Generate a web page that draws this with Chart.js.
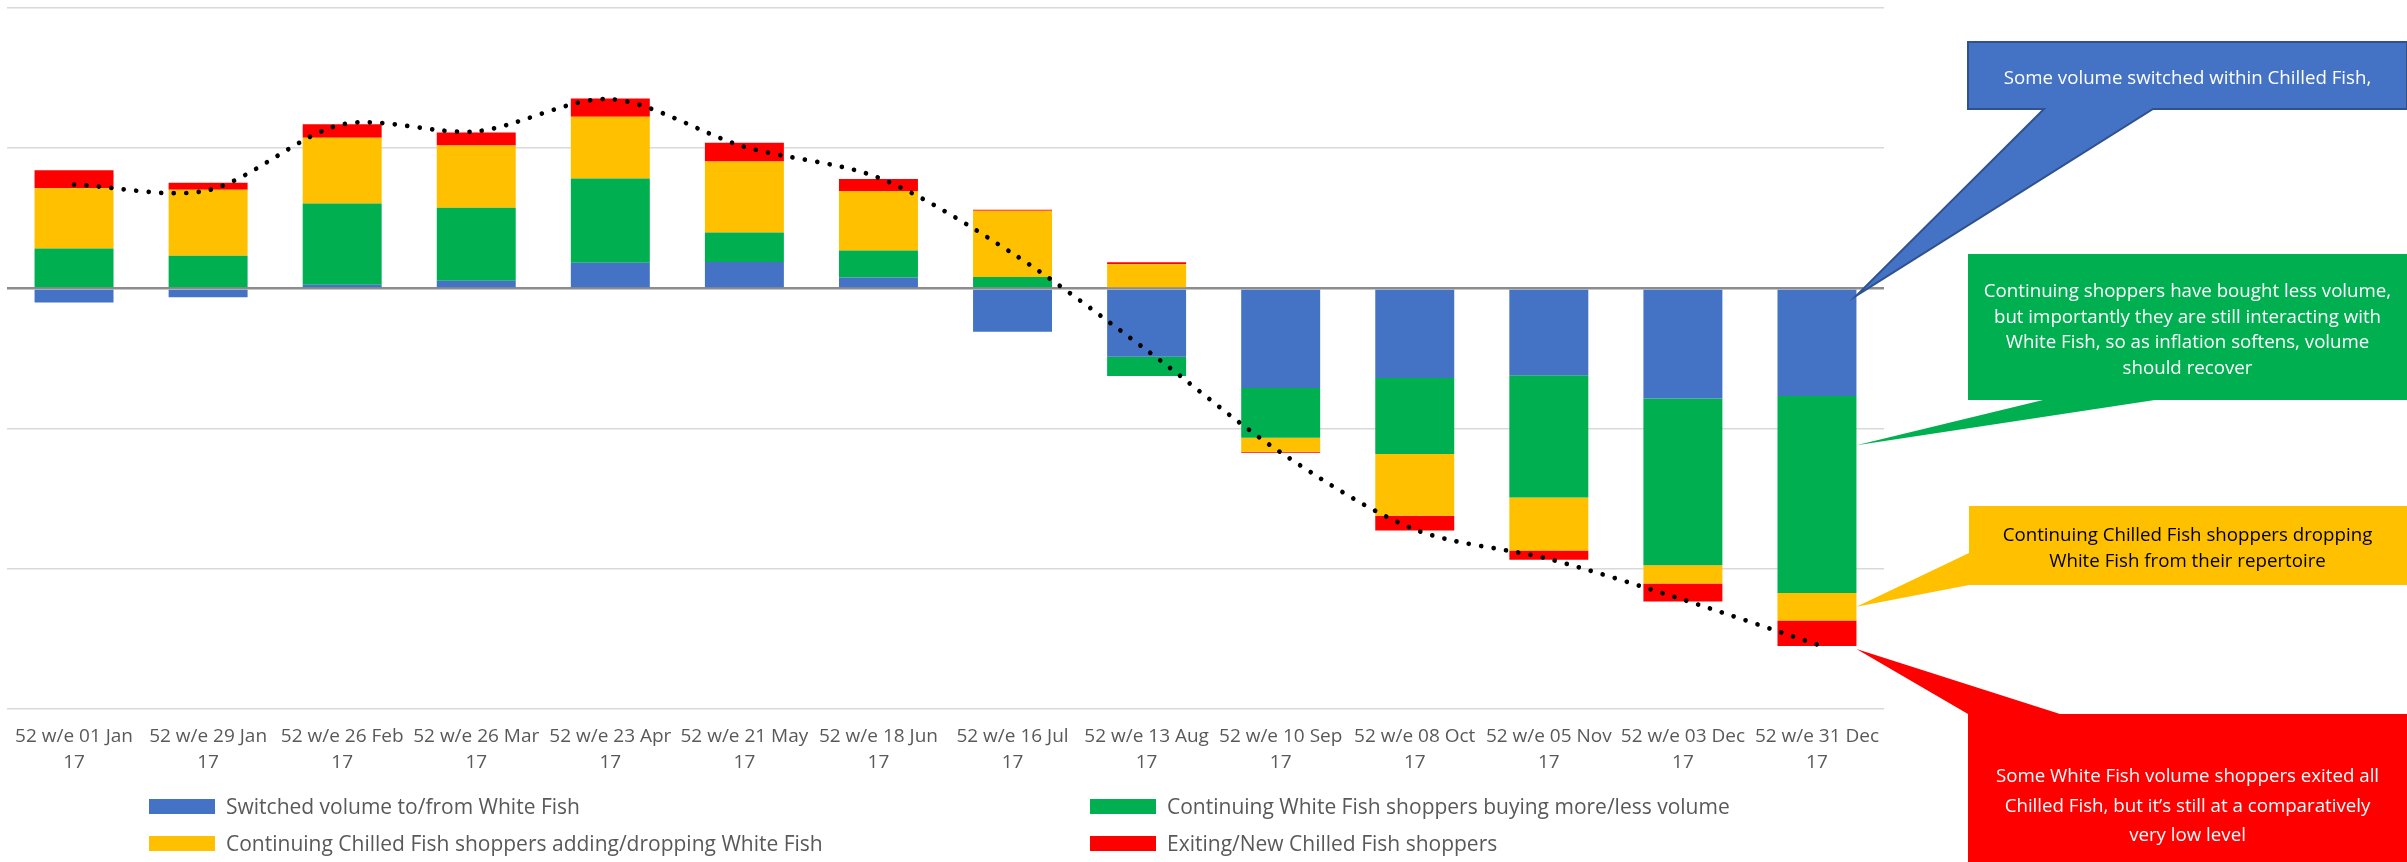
<!DOCTYPE html>
<html>
<head>
<meta charset="utf-8">
<script src="https://cdn.jsdelivr.net/npm/chart.js@4.4.1/dist/chart.umd.min.js"></script>
<style>
  body { margin: 0; background: #fff; }
  #wrap { position: relative; width: 2407px; height: 862px; overflow: hidden; font-family: 'Open Sans', sans-serif; }
  #myChart { position: absolute; left: 0; top: 0; }
  .legend-item { position: absolute; height: 28px; display: flex; align-items: center; font-size: 21px; color: #595959; white-space: nowrap; }
  .legend-item .box { display: inline-block; width: 66px; height: 15px; margin-right: 11px; }
  .note { position: absolute; left: 1968px; width: 439px; font-size: 18.7px; text-align: center; white-space: nowrap; }
</style>
</head>
<body>
<div id="wrap">
  <canvas id="myChart" width="2407" height="862"></canvas>
  <div id="legend"></div>
  <div class="note" style="top:63px; line-height:28px; color:#fff;">Some volume switched within Chilled Fish,</div>
  <div class="note" style="top:277px; line-height:25.6px; color:#fff;">Continuing shoppers have bought less volume,<br>but importantly they are still interacting with<br>White Fish, so as inflation softens, volume<br>should recover</div>
  <div class="note" style="top:521px; line-height:26px; color:#000;">Continuing Chilled Fish shoppers dropping<br>White Fish from their repertoire</div>
  <div class="note" style="top:760px; line-height:29.5px; color:#fff;">Some White Fish volume shoppers exited all<br>Chilled Fish, but it’s still at a comparatively<br>very low level</div>
</div>
<script>
'use strict';

let periods = ['01 Jan', '29 Jan', '26 Feb', '26 Mar', '23 Apr', '21 May', '18 Jun',
  '16 Jul', '13 Aug', '10 Sep', '08 Oct', '05 Nov', '03 Dec', '31 Dec'];
let periodLabels = periods.map(p => ['52 w/e ' + p, '17']);

let switchedVolume = [-0.10, -0.064, 0.026, 0.055, 0.183, 0.188, 0.078, -0.309, -0.487, -0.71, -0.639, -0.62, -0.786, -0.767];
let continuingWhite = [0.285, 0.233, 0.58, 0.52, 0.60, 0.21, 0.192, 0.081, -0.138, -0.356, -0.542, -0.872, -1.188, -1.406];
let continuingChilled = [0.43, 0.47, 0.468, 0.444, 0.442, 0.508, 0.425, 0.473, 0.173, -0.10, -0.44, -0.378, -0.13, -0.195];
let exitingNew = [0.128, 0.05, 0.097, 0.093, 0.13, 0.133, 0.086, 0.007, 0.014, -0.007, -0.105, -0.066, -0.13, -0.183];
let totalChange = [0.74, 0.70, 1.17, 1.12, 1.35, 1.01, 0.79, 0.25, -0.44, -1.17, -1.72, -1.93, -2.22, -2.54];

let seriesNames = [
  'Switched volume to/from White Fish',
  'Continuing White Fish shoppers buying more/less volume',
  'Continuing Chilled Fish shoppers adding/dropping White Fish',
  'Exiting/New Chilled Fish shoppers'
];
let seriesColors = ['#4472C4', '#00B050', '#FFC000', '#FF0000'];

// legend slots (left of box, vertical centre)
let legendSlots = [[149, 806], [1090, 806], [149, 843], [1090, 843]];

function makeBar(i, values) {
  return {
    type: 'bar',
    label: seriesNames[i],
    data: values,
    backgroundColor: seriesColors[i],
    borderWidth: 0,
    stack: 'parts',
    order: 1,
    barPercentage: 0.589,
    categoryPercentage: 1
  };
}

// callout boxes drawn to the right of the plot, tips attached to the last bar
let calloutPlugin = {
  id: 'callouts',
  afterDraw(chart) {
    let ctx = chart.ctx;
    let last = periods.length - 1;
    // datasets 1..4 are the bars (0 is the dotted total line)
    let els = [1, 2, 3, 4].map(i => chart.getDatasetMeta(i).data[last]);
    let tipX = els[0].x + els[0].width / 2;
    let shapes = [
      { color: seriesColors[0], stroke: '#2F528F', box: [1968, 42, 439, 67],
        tip: els[0].base + 6, side: 'bottom', a: 2044, b: 2153 },
      { color: seriesColors[1], box: [1968, 254, 439, 146],
        tip: els[1].base + 0.25 * (els[1].y - els[1].base), side: 'bottom', a: 2043, b: 2155 },
      { color: seriesColors[2], box: [1969, 506, 438, 79],
        tip: (els[2].base + els[2].y) / 2, side: 'left', a: 553, b: 585 },
      { color: seriesColors[3], box: [1968, 714, 439, 148],
        tip: els[3].y + 3, side: 'top', a: 1968, b: 2060 }
    ];
    ctx.save();
    shapes.forEach(s => {
      let [x, y, w, h] = s.box;
      ctx.beginPath();
      if (s.side === 'bottom') {
        ctx.moveTo(x, y);
        ctx.lineTo(x + w, y);
        ctx.lineTo(x + w, y + h);
        ctx.lineTo(s.b, y + h);
        ctx.lineTo(tipX, s.tip);
        ctx.lineTo(s.a, y + h);
        ctx.lineTo(x, y + h);
      } else if (s.side === 'left') {
        ctx.moveTo(x, y);
        ctx.lineTo(x + w, y);
        ctx.lineTo(x + w, y + h);
        ctx.lineTo(x, y + h);
        ctx.lineTo(x, s.b);
        ctx.lineTo(tipX, s.tip);
        ctx.lineTo(x, s.a);
      } else {
        ctx.moveTo(x, y + h);
        ctx.lineTo(x, y);
        ctx.lineTo(tipX, s.tip);
        ctx.lineTo(s.b, y);
        ctx.lineTo(x + w, y);
        ctx.lineTo(x + w, y + h);
      }
      ctx.closePath();
      ctx.fillStyle = s.color;
      ctx.fill();
      if (s.stroke) {
        ctx.strokeStyle = s.stroke;
        ctx.lineWidth = 2;
        ctx.stroke();
      }
    });
    ctx.restore();
  }
};

let ctx = document.getElementById('myChart').getContext('2d');
let myChart = new Chart(ctx, {
  data: {
    labels: periodLabels,
    datasets: [
      {
        type: 'line',
        label: 'Total',
        data: totalChange,
        borderColor: '#000',
        borderWidth: 4.7,
        borderDash: [0.001, 12.5],
        borderCapStyle: 'round',
        pointRadius: 0,
        tension: 0.3,
        fill: false,
        stack: 'total',
        order: 0
      },
      makeBar(0, switchedVolume),
      makeBar(1, continuingWhite),
      makeBar(2, continuingChilled),
      makeBar(3, exitingNew)
    ]
  },
  options: {
    responsive: false,
    animation: false,
    devicePixelRatio: 1,
    layout: { padding: { left: 7, right: 523, top: 8, bottom: 0 } },
    plugins: {
      legend: { display: false },
      tooltip: { enabled: false }
    },
    scales: {
      x: {
        stacked: true,
        offset: true,
        grid: { display: false, drawTicks: false },
        border: { display: false },
        ticks: {
          color: '#595959',
          font: { family: 'Open Sans', size: 19, lineHeight: 1.38 },
          maxRotation: 0,
          autoSkip: false,
          padding: 14
        },
        afterFit(scale) { scale.height = 153; }
      },
      y: {
        stacked: true,
        min: -3,
        max: 2,
        ticks: { display: false, stepSize: 1 },
        border: { display: false },
        grid: {
          drawTicks: false,
          color: c => (c.tick && c.tick.value === 0 ? '#8c8c8c' : '#d9d9d9'),
          lineWidth: c => (c.tick && c.tick.value === 0 ? 2.5 : 1.5)
        },
        afterFit(scale) { scale.width = 0; }
      }
    }
  },
  plugins: [calloutPlugin]
});

// legend built from the bar datasets
let legendDiv = document.getElementById('legend');
myChart.data.datasets.filter(d => d.type === 'bar').forEach((d, i) => {
  let item = document.createElement('div');
  item.className = 'legend-item';
  item.style.left = legendSlots[i][0] + 'px';
  item.style.top = (legendSlots[i][1] - 14) + 'px';
  let box = document.createElement('span');
  box.className = 'box';
  box.style.background = d.backgroundColor;
  item.appendChild(box);
  item.appendChild(document.createTextNode(d.label));
  legendDiv.appendChild(item);
});
</script>
</body>
</html>
